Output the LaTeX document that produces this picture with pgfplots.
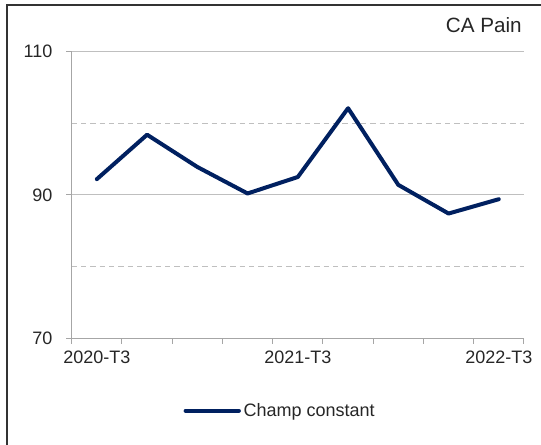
\documentclass[border=0pt]{standalone}
\usepackage{fontspec}
\setmainfont{Liberation Sans}
\usepackage{pgfplots}
\pgfplotsset{compat=1.18}
\definecolor{navy}{HTML}{002060}
\definecolor{gridgray}{HTML}{BFBFBF}
\definecolor{axisgray}{HTML}{A6A6A6}
\definecolor{txt}{HTML}{262626}
\begin{document}
\begin{tikzpicture}
% 1 px of the reference = 0.75pt; axis box lower-left at pixel (71.7,338.3)
\useasboundingbox (-53.8pt,-80pt) rectangle (352pt,253.7pt);
\draw[line width=1.5pt, black!80] (-48.75pt,-80pt) -- (-48.75pt,250pt) -- (352pt,250pt);
\node[anchor=east, inner sep=0pt, font=\fontsize{15.5}{17}\selectfont, text=txt] at (337.7pt,235pt) {CA Pain};
\begin{axis}[
    at={(0,0)}, anchor=south west,
    scale only axis,
    width=339.2pt, height=215pt,
    xmin=0, xmax=9, ymin=70, ymax=110,
    axis x line*=bottom, axis y line*=left,
    axis line style={axisgray, line width=0.75pt},
    every tick/.style={axisgray, line width=0.75pt},
    tick align=outside,
    major tick length=4pt,
    xtick={0,1,...,9}, xticklabels={},
    extra x ticks={0.5,4.5,8.5},
    extra x tick labels={2020-T3,2021-T3,2022-T3},
    extra x tick style={major tick length=0pt, xticklabel style={yshift=-6pt}},
    ytick={70,90,110},
    extra y ticks={80,100},
    extra y tick labels={},
    extra y tick style={major tick length=0pt, ymajorgrids=true, major grid style={gridgray, dashed, dash pattern=on 4pt off 3pt, line width=0.75pt}},
    ymajorgrids=true,
    major grid style={gridgray, line width=0.75pt},
    yticklabel style={xshift=-7pt},
    tick label style={font=\fontsize{13.5}{16}\selectfont, text=txt},
    /pgf/number format/assume math mode=true,
    legend style={at={(axis description cs:0.4616,0)}, anchor=center, yshift=-54.3pt,
        draw=none, fill=none, font=\fontsize{13.5}{16}\selectfont, text=txt,
        inner sep=0pt},
    legend image code/.code={\draw[#1, line width=3pt] (0,0) -- (40pt,0);},
    clip=false,
]
\addplot[navy, line width=3pt, line join=round, line cap=round] coordinates {
(0.5,92.2) (1.5,98.4) (2.5,93.9) (3.5,90.2) (4.5,92.5)
(5.5,102.1) (6.5,91.4) (7.5,87.4) (8.5,89.4)};
\addlegendentry{Champ constant}
\end{axis}
\end{tikzpicture}
\end{document}
